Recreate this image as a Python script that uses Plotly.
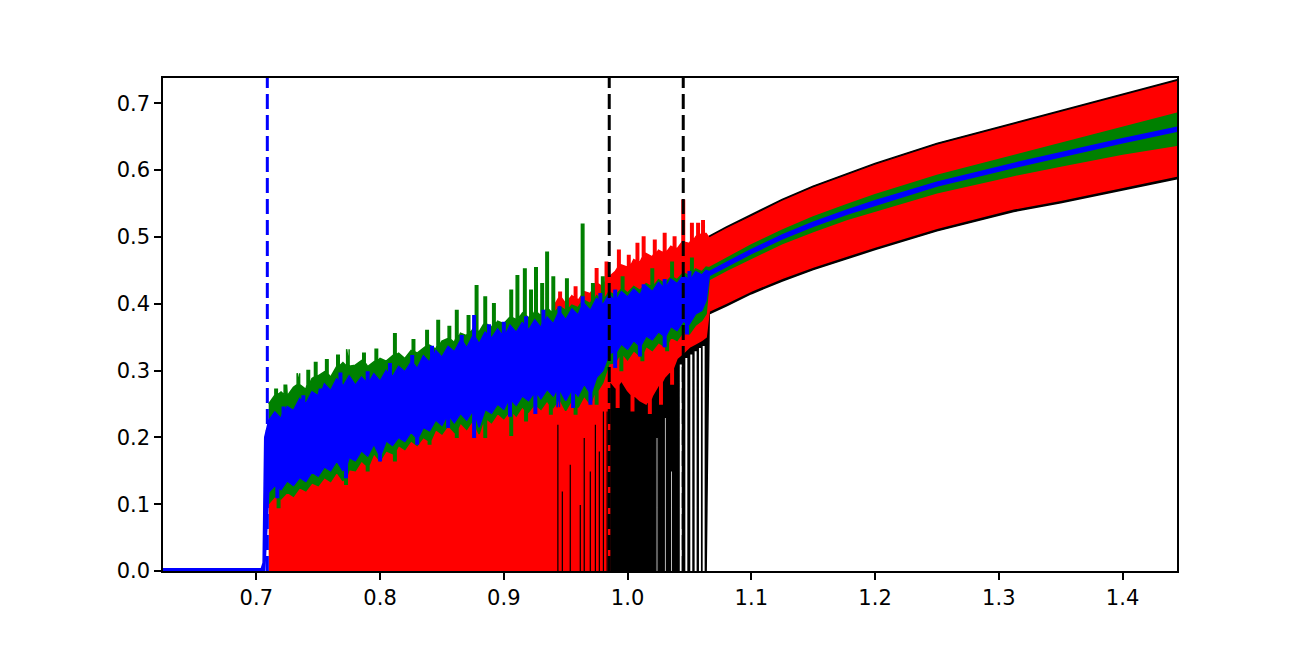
import numpy as np
import plotly.graph_objects as go

# ======================= data =======================
# common grid of the noisy regime
x_noisy = [0.710, 0.715, 0.720, 0.725, 0.730, 0.735, 0.740, 0.745, 0.750, 0.755,
           0.760, 0.765, 0.770, 0.775, 0.780, 0.785, 0.790, 0.795, 0.800, 0.805,
           0.810, 0.815, 0.820, 0.825, 0.830, 0.835, 0.840, 0.845, 0.850, 0.855,
           0.860, 0.865, 0.870, 0.875, 0.880, 0.885, 0.890, 0.895, 0.900, 0.905,
           0.910, 0.915, 0.920, 0.925, 0.930, 0.935, 0.940, 0.945, 0.950, 0.955,
           0.960, 0.965, 0.970, 0.975, 0.980, 0.985, 0.990, 0.995, 1.000, 1.005,
           1.010, 1.015, 1.020, 1.025, 1.030, 1.035, 1.040, 1.045, 1.050, 1.055,
           1.060, 1.0635]
green_hi_noisy = [0.250, 0.262, 0.268, 0.262, 0.275, 0.280, 0.272, 0.288, 0.292, 0.298,
                  0.290, 0.305, 0.312, 0.305, 0.308, 0.315, 0.306, 0.312, 0.318, 0.314,
                  0.322, 0.326, 0.318, 0.330, 0.326, 0.334, 0.338, 0.332, 0.344, 0.348,
                  0.342, 0.356, 0.352, 0.362, 0.358, 0.370, 0.364, 0.374, 0.370, 0.380,
                  0.376, 0.386, 0.378, 0.388, 0.382, 0.392, 0.386, 0.396, 0.390, 0.398,
                  0.394, 0.405, 0.400, 0.412, 0.406, 0.418, 0.412, 0.422, 0.416, 0.426,
                  0.420, 0.430, 0.426, 0.436, 0.430, 0.440, 0.436, 0.446, 0.442, 0.452,
                  0.448, 0.455]
blue_hi_noisy = [0.225, 0.238, 0.228, 0.246, 0.240, 0.258, 0.250, 0.268, 0.262, 0.280,
                 0.270, 0.288, 0.276, 0.292, 0.278, 0.290, 0.282, 0.295, 0.284, 0.300,
                 0.290, 0.306, 0.298, 0.312, 0.303, 0.322, 0.312, 0.330, 0.320, 0.336,
                 0.328, 0.345, 0.334, 0.352, 0.340, 0.358, 0.348, 0.362, 0.352, 0.368,
                 0.357, 0.372, 0.360, 0.376, 0.364, 0.380, 0.370, 0.386, 0.376, 0.392,
                 0.383, 0.400, 0.390, 0.408, 0.398, 0.414, 0.405, 0.418, 0.410, 0.422,
                 0.413, 0.426, 0.418, 0.432, 0.424, 0.437, 0.430, 0.442, 0.436, 0.448,
                 0.443, 0.450]
blue_lo_noisy = [0.118, 0.128, 0.122, 0.135, 0.128, 0.140, 0.134, 0.148, 0.142, 0.156,
                 0.150, 0.165, 0.150, 0.170, 0.165, 0.180, 0.172, 0.190, 0.175, 0.195,
                 0.188, 0.200, 0.194, 0.208, 0.200, 0.215, 0.210, 0.226, 0.218, 0.232,
                 0.222, 0.236, 0.226, 0.240, 0.215, 0.242, 0.236, 0.250, 0.242, 0.256,
                 0.248, 0.262, 0.255, 0.268, 0.258, 0.272, 0.262, 0.275, 0.255, 0.272,
                 0.262, 0.280, 0.268, 0.290, 0.300, 0.325, 0.328, 0.340, 0.332, 0.345,
                 0.338, 0.352, 0.346, 0.358, 0.352, 0.366, 0.360, 0.374, 0.370, 0.385,
                 0.390, 0.405]
green_lo_noisy = [0.101, 0.112, 0.108, 0.118, 0.112, 0.125, 0.120, 0.132, 0.128, 0.140,
                  0.134, 0.148, 0.135, 0.152, 0.150, 0.165, 0.158, 0.176, 0.165, 0.180,
                  0.176, 0.188, 0.182, 0.195, 0.188, 0.200, 0.195, 0.212, 0.205, 0.218,
                  0.208, 0.222, 0.212, 0.226, 0.205, 0.228, 0.222, 0.236, 0.228, 0.240,
                  0.232, 0.246, 0.238, 0.250, 0.242, 0.255, 0.245, 0.258, 0.240, 0.256,
                  0.245, 0.262, 0.250, 0.270, 0.282, 0.310, 0.312, 0.325, 0.316, 0.330,
                  0.322, 0.336, 0.330, 0.342, 0.336, 0.350, 0.345, 0.358, 0.355, 0.368,
                  0.375, 0.385]

# red top (hidden below green before ~0.94, then visible above the blue band)
x_red_hi = [0.710, 0.750, 0.800, 0.850, 0.900, 0.935,
            0.940, 0.945, 0.950, 0.955, 0.960, 0.965, 0.970, 0.975, 0.980, 0.985,
            0.990, 0.995, 1.000, 1.005, 1.010, 1.015, 1.020, 1.025, 1.030, 1.035,
            1.040, 1.045, 1.050, 1.055, 1.060, 1.0635]
red_hi_noisy = [0.130, 0.170, 0.210, 0.240, 0.270, 0.290,
                0.395, 0.410, 0.400, 0.412, 0.405, 0.418, 0.415, 0.430, 0.425, 0.440,
                0.448, 0.458, 0.452, 0.466, 0.462, 0.475, 0.470, 0.480, 0.476, 0.486,
                0.482, 0.492, 0.490, 0.500, 0.505, 0.505]
# red bottom: zero until the first black marker, then lifted
x_red_lo = [0.710, 0.9855, 0.9855, 0.990, 0.995, 1.000, 1.005, 1.010, 1.015, 1.020,
            1.025, 1.030, 1.035, 1.040, 1.045, 1.050, 1.055, 1.060, 1.0635]
red_lo_noisy = [0.0, 0.0, 0.285, 0.275, 0.285, 0.270, 0.262, 0.255, 0.250, 0.262,
                0.278, 0.290, 0.300, 0.318, 0.326, 0.335, 0.340, 0.345, 0.350]
# black top in the noisy regime (just under the red bottom)
x_black_hi = [0.940, 0.9855, 0.9855, 0.990, 0.995, 1.000, 1.005, 1.010, 1.015, 1.020,
              1.025, 1.030, 1.035, 1.040, 1.045, 1.050, 1.055, 1.060, 1.0635]
black_hi_noisy = [0.25, 0.25, 0.297, 0.287, 0.297, 0.282, 0.274, 0.267, 0.262, 0.274,
                  0.290, 0.302, 0.312, 0.330, 0.338, 0.347, 0.352, 0.357, 0.362]

# isolated spikes (x, extreme value)
green_spikes = [(0.716, 0.272), (0.7235, 0.278), (0.734, 0.296), (0.742, 0.300),
                (0.748, 0.312), (0.757, 0.316), (0.766, 0.323), (0.774, 0.332),
                (0.787, 0.326), (0.797, 0.332), (0.812, 0.355), (0.827, 0.346),
                (0.838, 0.360), (0.847, 0.375), (0.856, 0.366), (0.862, 0.390),
                (0.8715, 0.382), (0.878, 0.427), (0.885, 0.410), (0.892, 0.400),
                (0.906, 0.420), (0.911, 0.442), (0.917, 0.452), (0.922, 0.420),
                (0.926, 0.454), (0.931, 0.430), (0.935, 0.477), (0.940, 0.440),
                (0.951, 0.437), (0.9637, 0.519), (0.972, 0.430), (0.980, 0.440),
                (0.996, 0.440), (1.020, 0.452), (1.036, 0.462), (1.052, 0.468)]
green_dips = [(0.718, 0.095), (0.7725, 0.130), (0.790, 0.150), (0.812, 0.165),
              (0.840, 0.190), (0.862, 0.200), (0.885, 0.200), (0.906, 0.203),
              (0.918, 0.225), (0.938, 0.235), (0.958, 0.235), (0.975, 0.250),
              (0.995, 0.300), (1.012, 0.315), (1.032, 0.330)]
blue_spikes = [(0.722, 0.245), (0.738, 0.262), (0.752, 0.272), (0.768, 0.296),
               (0.790, 0.298), (0.808, 0.310), (0.826, 0.322), (0.842, 0.336),
               (0.866, 0.352), (0.876, 0.382), (0.888, 0.368), (0.900, 0.372),
               (0.918, 0.380), (0.932, 0.390), (0.945, 0.395), (0.9637, 0.410),
               (0.978, 0.415), (0.990, 0.420), (1.013, 0.428), (1.030, 0.436),
               (1.050, 0.448)]
blue_dips = [(0.717, 0.110), (0.7725, 0.140), (0.800, 0.165), (0.830, 0.190),
             (0.855, 0.215), (0.876, 0.200), (0.905, 0.232), (0.9255, 0.236),
             (0.944, 0.245), (0.956, 0.245), (0.970, 0.250), (0.990, 0.305),
             (1.010, 0.322), (1.030, 0.336), (1.048, 0.355)]
red_spikes = [(0.9455, 0.417), (0.958, 0.425), (0.975, 0.4525), (0.983, 0.462),
              (0.993, 0.480), (1.001, 0.472), (1.008, 0.490), (1.013, 0.500),
              (1.022, 0.495), (1.030, 0.505), (1.038, 0.500), (1.045, 0.555),
              (1.052, 0.520), (1.057, 0.520), (1.061, 0.524)]
red_dips = [(0.992, 0.245), (1.004, 0.240), (1.018, 0.236), (1.027, 0.250),
            (1.036, 0.280)]
# places where the red does not reach zero (black shows through)
red_gaps = [(0.9437, 0.22), (0.9473, 0.12), (0.9537, 0.16), (0.9618, 0.10),
            (0.9650, 0.20), (0.9699, 0.15), (0.9740, 0.22), (0.9772, 0.18),
            (0.9805, 0.24), (0.9835, 0.24)]
# places where the black does not reach zero (white shows through)
black_gaps_thin = [(1.0238, 0.200), (1.0305, 0.230), (1.0355, 0.150)]
black_gaps = [(1.0430, 0.310), (1.0475, 0.320), (1.0515, 0.325), (1.0550, 0.330),
              (1.0585, 0.335), (1.0615, 0.338)]

# smooth regime (period-2 band)
x_band = [1.066, 1.080, 1.100, 1.125, 1.150, 1.177, 1.200, 1.250, 1.312, 1.350, 1.400, 1.444]
black_hi_band = [0.501, 0.515, 0.533, 0.556, 0.576, 0.595, 0.610, 0.640, 0.670, 0.689, 0.713, 0.735]
red_hi_band = [0.498, 0.512, 0.530, 0.553, 0.573, 0.592, 0.607, 0.637, 0.667, 0.686, 0.710, 0.732]
green_hi_band = [0.454, 0.468, 0.488, 0.510, 0.530, 0.548, 0.563, 0.592, 0.622, 0.640, 0.664, 0.685]
blue_hi_band = [0.448, 0.462, 0.481, 0.503, 0.522, 0.540, 0.554, 0.582, 0.610, 0.626, 0.647, 0.664]
blue_lo_band = [0.442, 0.456, 0.475, 0.497, 0.516, 0.534, 0.548, 0.576, 0.604, 0.620, 0.641, 0.658]
green_lo_band = [0.436, 0.450, 0.468, 0.490, 0.508, 0.526, 0.539, 0.566, 0.592, 0.606, 0.624, 0.637]
red_lo_band = [0.389, 0.401, 0.419, 0.438, 0.455, 0.471, 0.485, 0.513, 0.542, 0.555, 0.574, 0.591]
black_lo_band = [0.385, 0.397, 0.415, 0.434, 0.451, 0.467, 0.481, 0.509, 0.538, 0.551, 0.570, 0.587]

# blue before the onset (near zero) and its steep rise
x_pre = [0.6246, 0.7040, 0.7055, 0.7068]
blue_pre_hi = [0.0035, 0.0035, 0.012, 0.200]
blue_pre_lo = [0.0005, 0.0005, 0.0005, 0.0005]

# vertical dashed markers
vline_x = [0.7089, 0.9852, 1.0450]
vline_color = ["#0000ff", "#000000", "#000000"]

X_RANGE = [0.6246, 1.444]
Y_RANGE = [0.0, 0.7378]
X_TICKS = [0.7, 0.8, 0.9, 1.0, 1.1, 1.2, 1.3, 1.4]
Y_TICKS = [0.0, 0.1, 0.2, 0.3, 0.4, 0.5, 0.6, 0.7]

# ============================== drawing ==============================
K, R, G, B = "#000000", "#ff0000", "#008000", "#0000ff"


def marks_hw(marks, hw):
    return [(mx, my, hw) for mx, my in marks]


def polyline(xs, ys, marks=()):
    """edge polyline with narrow rectangular excursions at the marks"""
    pts = []
    for x, y in zip(xs, ys):
        if any(abs(x - mx) <= hw for mx, _, hw in marks):
            continue
        pts.append((x, 0, y))
    for mx, my, hw in marks:
        base = float(np.interp(mx, xs, ys))
        pts += [(mx - hw, 1, base), (mx - hw, 2, my), (mx + hw, 3, my), (mx + hw, 4, base)]
    pts.sort(key=lambda p: (p[0], p[1]))
    return [p[0] for p in pts], [p[2] for p in pts]


fig = go.Figure()


def area(upper, lower, color, width=1.5):
    ux, uy = upper
    lx, ly = lower
    fig.add_trace(go.Scatter(x=list(ux) + list(lx)[::-1], y=list(uy) + list(ly)[::-1],
                             mode="lines", fill="toself", fillcolor=color,
                             line=dict(color=color, width=width),
                             hoverinfo="skip", showlegend=False))


HW = 0.0010
# black
area(polyline(x_black_hi + x_band, black_hi_noisy + black_hi_band),
     polyline([0.940, 1.0635] + x_band, [0.0, 0.0] + black_lo_band,
              marks_hw(black_gaps_thin, 0.0009) + marks_hw(black_gaps, 0.0014)),
     K)
# red
area(polyline(x_red_hi + x_band, red_hi_noisy + red_hi_band, marks_hw(red_spikes, HW)),
     polyline(x_red_lo + x_band, red_lo_noisy + red_lo_band,
              marks_hw(red_gaps, 0.0011) + marks_hw(red_dips, HW)),
     R)
# green
area(polyline(x_noisy + x_band, green_hi_noisy + green_hi_band, marks_hw(green_spikes, HW)),
     polyline(x_noisy + x_band, green_lo_noisy + green_lo_band, marks_hw(green_dips, HW)),
     G)
# blue
area(polyline(x_pre + x_noisy + x_band, blue_pre_hi + blue_hi_noisy + blue_hi_band,
              marks_hw(blue_spikes, HW)),
     polyline(x_pre + x_noisy + x_band, blue_pre_lo + blue_lo_noisy + blue_lo_band,
              marks_hw(blue_dips, HW)),
     B)

for xv, c in zip(vline_x, vline_color):
    fig.add_shape(type="line", x0=xv, x1=xv, y0=0, y1=1, xref="x", yref="paper",
                  line=dict(color=c, width=3, dash="15px,6px"))

fig.update_layout(
    width=1308, height=654,
    margin=dict(l=155, r=139, t=70, b=91),
    paper_bgcolor="white", plot_bgcolor="white",
    font=dict(family="DejaVu Sans", size=21, color="black"),
    showlegend=False,
)
axis_common = dict(showgrid=False, zeroline=False, showline=True, linecolor="black",
                   linewidth=1.5, mirror=True, ticks="outside", ticklen=7,
                   tickwidth=1.5, tickcolor="black")
fig.update_xaxes(range=X_RANGE, tickvals=X_TICKS,
                 ticktext=[f"{v:.1f}" for v in X_TICKS], **axis_common)
fig.update_yaxes(range=Y_RANGE, tickvals=Y_TICKS,
                 ticktext=[f"{v:.1f}" for v in Y_TICKS], **axis_common)

fig.write_html("out.html")
